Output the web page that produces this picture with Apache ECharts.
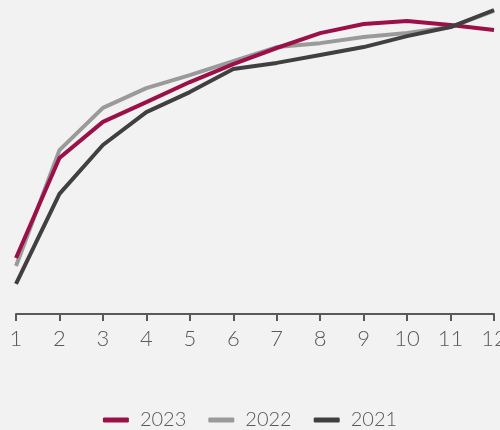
<!DOCTYPE html>
<html>
<head>
<meta charset="utf-8">
<script src="https://cdn.jsdelivr.net/npm/echarts@6/dist/echarts.min.js"></script>
<style>
  html, body { margin: 0; padding: 0; background: #f2f2f2; }
  #chart { width: 500px; height: 430px; }
</style>
</head>
<body>
<div id="chart"></div>
<script>
const months = ['1', '2', '3', '4', '5', '6', '7', '8', '9', '10', '11', '12']
const s2023 = [18.4, 51.3, 63.2, 69.7, 76.3, 82.2, 87.5, 92.4, 95.4, 96.4, 95.1, 93.4]
const s2022 = [15.8, 53.9, 67.8, 74.3, 78.6, 83.2, 87.8, 89.1, 91.1, 92.4, 94.4, 99.7]
const s2021 = [9.9, 39.5, 55.6, 66.4, 73.0, 80.6, 82.6, 85.2, 87.8, 91.4, 94.4, 100]

const chart = echarts.init(document.getElementById('chart'))

const line = (name, data, color, z) => ({
  name,
  type: 'line',
  data,
  z,
  symbol: 'none',
  lineStyle: { width: 4, color },
  itemStyle: { color }
})

chart.setOption({
  backgroundColor: '#f2f2f2',
  animation: false,
  textStyle: { fontFamily: 'Lato, sans-serif', fontWeight: 300 },
  grid: { left: 16, right: 6, top: 10, bottom: 116, containLabel: false, outerBoundsMode: 'none' },
  xAxis: {
    type: 'category',
    data: months,
    boundaryGap: false,
    axisLine: { lineStyle: { color: '#595959', width: 2 } },
    axisTick: { length: 7, lineStyle: { color: '#595959', width: 2 } },
    axisLabel: { color: '#595959', fontSize: 22, fontWeight: 300, margin: 14 },
    splitLine: { show: false }
  },
  yAxis: {
    type: 'value',
    min: 0,
    max: 100,
    show: false,
    splitLine: { show: false }
  },
  legend: {
    bottom: 0,
    padding: [0, 5, 0, 5],
    left: 'center',
    icon: 'roundRect',
    itemWidth: 26,
    itemHeight: 5,
    itemGap: 22,
    textStyle: { color: '#595959', fontSize: 20, fontWeight: 300, padding: [0, 0, 0, 6] },
    data: ['2023', '2022', '2021']
  },
  series: [
    line('2022', s2022, '#9a9a9a', 2),
    line('2023', s2023, '#9b1048', 3),
    line('2021', s2021, '#404040', 4)
  ]
})
</script>
</body>
</html>
